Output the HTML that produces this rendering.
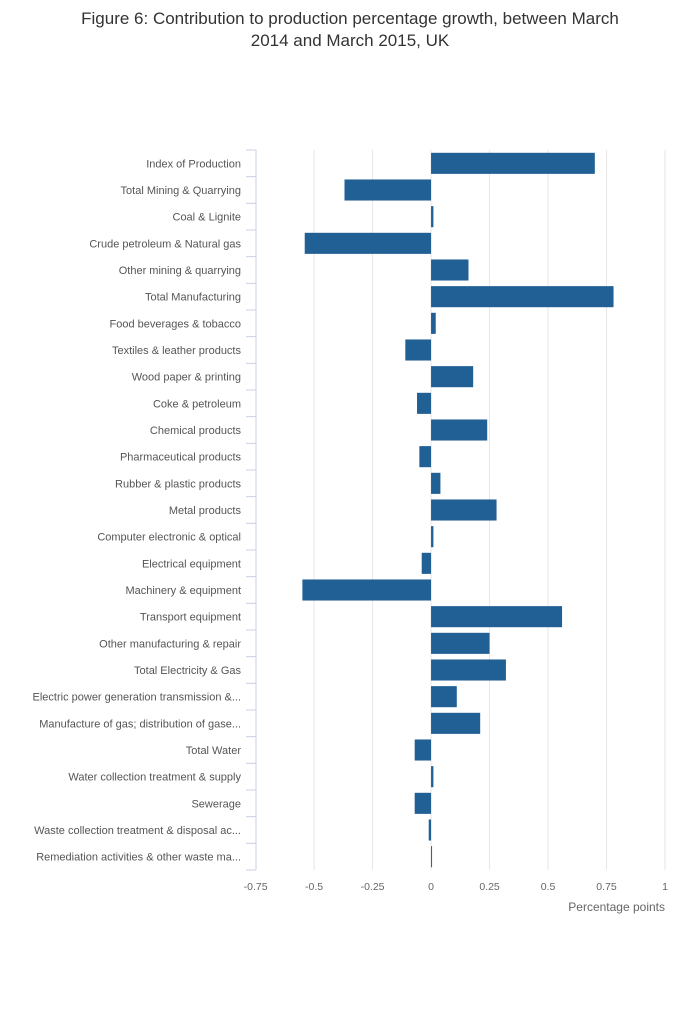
<!DOCTYPE html>
<html><head><meta charset="utf-8"><style>
body{margin:0;background:#fff;width:700px;height:1020px;overflow:hidden;font-family:"Liberation Sans",sans-serif}
</style></head><body>
<svg id="chart" width="700" height="1020">
<text x="350" y="24" text-anchor="middle" font-size="17" fill="#333">Figure 6: Contribution to production percentage growth, between March</text>
<text x="350" y="46" text-anchor="middle" font-size="17" fill="#333">2014 and March 2015, UK</text>
<g id="grid"></g><g id="bars"></g><g id="axes"></g>
</svg>
<script>
const categories=["Index of Production","Total Mining & Quarrying","Coal & Lignite","Crude petroleum & Natural gas","Other mining & quarrying","Total Manufacturing","Food beverages & tobacco","Textiles & leather products","Wood paper & printing","Coke & petroleum","Chemical products","Pharmaceutical products","Rubber & plastic products","Metal products","Computer electronic & optical","Electrical equipment","Machinery & equipment","Transport equipment","Other manufacturing & repair","Total Electricity & Gas","Electric power generation transmission &...","Manufacture of gas; distribution of gase...","Total Water","Water collection treatment & supply","Sewerage","Waste collection treatment & disposal ac...","Remediation activities & other waste ma..."];
const values=[0.70,-0.37,0.01,-0.54,0.16,0.78,0.02,-0.11,0.18,-0.06,0.24,-0.05,0.04,0.28,0.01,-0.04,-0.55,0.56,0.25,0.32,0.11,0.21,-0.07,0.01,-0.07,-0.01,0.003];
const xTicks=[-0.75,-0.5,-0.25,0,0.25,0.5,0.75,1];
const xTickLabels=["-0.75","-0.5","-0.25","0","0.25","0.5","0.75","1"];
const NS="http://www.w3.org/2000/svg";
const L=255.6,R=665,T=150,B=870,xmin=-0.75,xmax=1;
const x=v=>L+(v-xmin)/(xmax-xmin)*(R-L);
const band=(B-T)/categories.length;
const y=i=>T+i*band;
function mk(tag,attrs,parent){const e=document.createElementNS(NS,tag);for(const k in attrs)e.setAttribute(k,attrs[k]);parent.appendChild(e);return e;}
const grid=document.getElementById('grid'),bars=document.getElementById('bars'),axes=document.getElementById('axes');
xTicks.forEach((t,i)=>{
 if(i>0){const g=mk('line',{x1:x(t),x2:x(t),y1:T,y2:B,stroke:'#e6e6e6','stroke-width':1},grid);
 
 }
 const tx=mk('text',{x:x(t),y:890,'text-anchor':'middle','font-size':10.5,fill:'#666'},axes);
 tx.textContent=xTickLabels[i];
 
 
});
categories.forEach((c,i)=>{
 const v=values[i];
 const r=mk('rect',{x:Math.min(x(0),x(v)),y:y(i)+2.8,width:Math.max(1,Math.abs(x(v)-x(0))),height:band-5.6,fill:'#206095'},bars);
 
 
 const tx=mk('text',{x:241,y:y(i)+band/2+4,'text-anchor':'end','font-size':11,fill:'#555'},axes);
 tx.textContent=c;
 
 
 const tk=mk('line',{x1:246,x2:256,y1:y(i),y2:y(i),stroke:'#c8d0e0'},axes);
 
 
});
const bt=mk('line',{x1:246,x2:256,y1:B,y2:B,stroke:'#c8d0e0'},axes);


const ax=mk('line',{x1:256,x2:256,y1:T,y2:B,stroke:'#c8d0e0'},axes);


const xt=mk('text',{x:665,y:911,'text-anchor':'end','font-size':12,fill:'#666'},axes);
xt.textContent='Percentage points';


</script>
</body></html>
